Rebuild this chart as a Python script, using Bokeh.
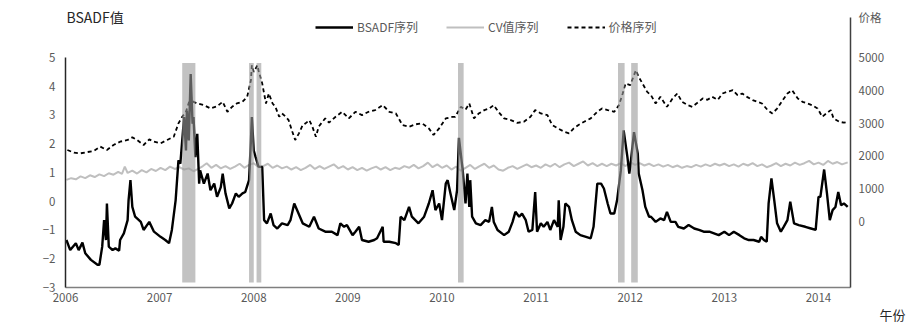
from bokeh.plotting import figure
from bokeh.models import Range1d, LinearAxis, FixedTicker, Legend, LegendItem, Label, Title
from bokeh.embed import file_html
from bokeh.resources import INLINE

# ---------------- data ----------------
years = [2006, 2007, 2008, 2009, 2010, 2011, 2012, 2013, 2014]
left_ticks = [-3, -2, -1, 0, 1, 2, 3, 4, 5]
right_ticks = [0, 1000, 2000, 3000, 4000, 5000]

bsadf_t = [2006.01, 2006.05, 2006.11, 2006.14, 2006.18, 2006.21, 2006.27, 2006.34, 2006.36, 2006.39,
           2006.41, 2006.43, 2006.44, 2006.46, 2006.50, 2006.53, 2006.57, 2006.58, 2006.62, 2006.66,
           2006.67, 2006.69, 2006.71, 2006.74, 2006.80, 2006.83, 2006.89, 2006.94, 2007.01, 2007.06,
           2007.10, 2007.13, 2007.17, 2007.20, 2007.22, 2007.26, 2007.28, 2007.29, 2007.31, 2007.33,
           2007.35, 2007.36, 2007.38, 2007.40, 2007.42, 2007.43, 2007.47, 2007.51, 2007.54, 2007.58,
           2007.61, 2007.65, 2007.67, 2007.70, 2007.74, 2007.77, 2007.81, 2007.84, 2007.88, 2007.91,
           2007.95, 2007.97, 2007.98, 2008.00, 2008.02, 2008.05, 2008.09, 2008.11, 2008.14, 2008.18,
           2008.21, 2008.25, 2008.30, 2008.36, 2008.39, 2008.43, 2008.46, 2008.52, 2008.59, 2008.64,
           2008.69, 2008.76, 2008.83, 2008.89, 2008.92, 2008.96, 2008.99, 2009.05, 2009.08, 2009.12,
           2009.15, 2009.22, 2009.28, 2009.31, 2009.37, 2009.38, 2009.44, 2009.51, 2009.54, 2009.56,
           2009.60, 2009.65, 2009.68, 2009.75, 2009.81, 2009.86, 2009.90, 2009.93, 2009.97, 2010.00,
           2010.04, 2010.06, 2010.09, 2010.13, 2010.16, 2010.18, 2010.22, 2010.25, 2010.27, 2010.29,
           2010.30, 2010.32, 2010.36, 2010.41, 2010.46, 2010.50, 2010.53, 2010.55, 2010.59, 2010.66,
           2010.71, 2010.75, 2010.78, 2010.82, 2010.85, 2010.89, 2010.92, 2010.96, 2010.99, 2011.01,
           2011.05, 2011.08, 2011.12, 2011.15, 2011.19, 2011.23, 2011.24, 2011.26, 2011.29, 2011.31,
           2011.35, 2011.38, 2011.42, 2011.47, 2011.53, 2011.58, 2011.61, 2011.65, 2011.69, 2011.72,
           2011.76, 2011.79, 2011.83, 2011.86, 2011.90, 2011.93, 2011.97, 2011.99, 2012.00, 2012.04,
           2012.08, 2012.09, 2012.13, 2012.16, 2012.20, 2012.22, 2012.27, 2012.32, 2012.36, 2012.39,
           2012.43, 2012.48, 2012.51, 2012.57, 2012.62, 2012.68, 2012.73, 2012.78, 2012.84, 2012.89,
           2012.94, 2013.00, 2013.05, 2013.10, 2013.16, 2013.21, 2013.26, 2013.31, 2013.37, 2013.39,
           2013.42, 2013.45, 2013.47, 2013.50, 2013.53, 2013.56, 2013.60, 2013.63, 2013.67, 2013.70,
           2013.74, 2013.79, 2013.86, 2013.92, 2013.97, 2014.00, 2014.02, 2014.06, 2014.09, 2014.12,
           2014.15, 2014.18, 2014.21, 2014.24, 2014.27, 2014.31]
bsadf_v = [-1.35, -1.70, -1.46, -1.70, -1.44, -1.81, -2.04, -2.21, -2.21, -1.58,
           -0.66, -1.35, -0.08, -1.58, -1.70, -1.64, -1.72, -1.35, -1.12, -0.66,
           0.03, 0.73, -0.20, -0.54, -0.72, -1.00, -0.72, -1.06, -1.24, -1.35,
           -1.46, -1.00, 0.03, 1.42, 1.30, 2.92, 1.76, 3.15, 2.11, 4.42,
           2.69, 2.92, 1.53, 2.34, 0.61, 1.07, 0.61, 0.96, 0.38, 0.61,
           0.15, 0.49, 0.96, 0.27, -0.25, -0.08, 0.27, 0.15, 0.27, 0.32,
           0.73, 2.11, 2.92, 1.76, 1.53, 1.20, 1.19, -0.66, -0.77, -0.43,
           -0.83, -0.95, -0.77, -0.83, -0.66, -0.08, -0.31, -0.77, -0.89, -0.54,
           -0.95, -1.06, -1.06, -1.18, -0.77, -0.89, -0.83, -1.18, -1.06, -0.89,
           -1.35, -1.41, -1.35, -1.29, -0.89, -1.41, -1.41, -1.46, -1.52, -0.54,
           -0.66, -0.20, -0.54, -0.77, -0.54, -0.08, 0.38, -0.31, -0.08, -0.66,
           0.61, 0.73, 0.27, -0.31, 0.38, 2.20, 1.07, -0.08, 0.96, -0.20,
           0.73, -0.54, -0.77, -0.83, -0.66, -0.72, -0.20, -0.72, -1.00, -1.18,
           -1.06, -0.72, -0.37, -0.54, -0.43, -0.66, -1.06, -1.00, 0.32, -1.06,
           -0.77, -0.89, -0.72, -1.00, -0.66, -0.89, 0.03, -1.35, -0.89, -0.08,
           -0.20, -0.66, -1.06, -1.18, -1.24, -1.29, -0.89, 0.61, 0.61, 0.44,
           -0.08, -0.43, -0.43, 0.03, 1.07, 2.46, 1.53, 0.96, 1.19, 2.40,
           1.65, 0.96, 0.38, -0.20, -0.54, -0.54, -0.72, -0.60, -0.66, -0.37,
           -0.72, -0.72, -0.89, -0.95, -0.83, -0.95, -1.00, -1.06, -1.06, -1.12,
           -1.18, -1.06, -1.18, -1.06, -1.18, -1.29, -1.35, -1.35, -1.41, -1.24,
           -1.35, -1.41, -0.08, 0.79, 0.03, -0.77, -1.06, -0.89, -0.66, -0.02,
           -0.77, -0.83, -0.89, -0.95, -1.00, 0.15, 0.15, 1.10, 0.27, -0.66,
           -0.31, -0.20, 0.32, -0.14, -0.08, -0.20]

cv_t = [2006.01, 2006.06, 2006.11, 2006.16, 2006.21, 2006.26, 2006.31, 2006.36, 2006.41, 2006.46,
        2006.51, 2006.56, 2006.60, 2006.63, 2006.66, 2006.71, 2006.76, 2006.81, 2006.86, 2006.91,
        2006.96, 2007.01, 2007.06, 2007.11, 2007.16, 2007.21, 2007.26, 2007.31, 2007.36, 2007.41,
        2007.46, 2007.50, 2007.55, 2007.60, 2007.65, 2007.70, 2007.75, 2007.80, 2007.85, 2007.90,
        2007.95, 2008.00, 2008.05, 2008.10, 2008.15, 2008.20, 2008.25, 2008.30, 2008.35, 2008.40,
        2008.45, 2008.50, 2008.55, 2008.60, 2008.65, 2008.70, 2008.75, 2008.80, 2008.85, 2008.90,
        2008.95, 2009.00, 2009.05, 2009.10, 2009.15, 2009.20, 2009.25, 2009.30, 2009.35, 2009.40,
        2009.45, 2009.50, 2009.55, 2009.60, 2009.65, 2009.70, 2009.75, 2009.80, 2009.85, 2009.90,
        2009.95, 2010.00, 2010.05, 2010.10, 2010.15, 2010.20, 2010.25, 2010.30, 2010.35, 2010.40,
        2010.45, 2010.50, 2010.55, 2010.60, 2010.65, 2010.70, 2010.75, 2010.80, 2010.85, 2010.90,
        2010.95, 2011.00, 2011.05, 2011.10, 2011.15, 2011.20, 2011.25, 2011.30, 2011.35, 2011.40,
        2011.45, 2011.50, 2011.55, 2011.60, 2011.65, 2011.70, 2011.75, 2011.80, 2011.85, 2011.90,
        2011.95, 2012.00, 2012.05, 2012.10, 2012.15, 2012.20, 2012.25, 2012.30, 2012.35, 2012.40,
        2012.45, 2012.50, 2012.55, 2012.60, 2012.65, 2012.70, 2012.75, 2012.80, 2012.85, 2012.90,
        2012.95, 2013.00, 2013.05, 2013.10, 2013.15, 2013.20, 2013.25, 2013.30, 2013.35, 2013.40,
        2013.45, 2013.50, 2013.55, 2013.60, 2013.65, 2013.70, 2013.75, 2013.80, 2013.85, 2013.90,
        2013.95, 2014.00, 2014.05, 2014.10, 2014.15, 2014.20, 2014.25, 2014.31]
cv_v = [0.74, 0.80, 0.76, 0.86, 0.80, 0.90, 0.84, 0.93, 0.87, 0.97,
        0.92, 1.02, 0.95, 1.20, 0.98, 1.06, 0.96, 1.08, 1.00, 1.12,
        1.05, 1.16, 1.08, 1.20, 1.12, 1.18, 1.10, 1.14, 1.04, 1.12,
        1.22, 1.32, 1.16, 1.26, 1.14, 1.22, 1.12, 1.20, 1.30, 1.16,
        1.26, 1.32, 1.18, 1.22, 1.30, 1.16, 1.24, 1.14, 1.20, 1.10,
        1.18, 1.08, 1.16, 1.26, 1.12, 1.22, 1.12, 1.20, 1.28, 1.14,
        1.22, 1.10, 1.18, 1.08, 1.16, 1.06, 1.14, 1.20, 1.10, 1.18,
        1.08, 1.16, 1.12, 1.22, 1.16, 1.26, 1.14, 1.22, 1.34, 1.18,
        1.28, 1.16, 1.24, 1.10, 1.20, 1.06, 1.16, 1.26, 1.12, 1.22,
        1.30, 1.16, 1.24, 1.10, 1.06, 1.16, 1.22, 1.12, 1.20, 1.28,
        1.18, 1.24, 1.16, 1.28, 1.20, 1.30, 1.18, 1.28, 1.34, 1.22,
        1.30, 1.38, 1.24, 1.32, 1.22, 1.30, 1.22, 1.30, 1.24, 1.32,
        1.22, 1.36, 1.26, 1.32, 1.24, 1.30, 1.22, 1.28, 1.20, 1.26,
        1.18, 1.24, 1.16, 1.22, 1.18, 1.26, 1.20, 1.28, 1.22, 1.30,
        1.24, 1.30, 1.22, 1.28, 1.20, 1.30, 1.24, 1.32, 1.22, 1.28,
        1.18, 1.24, 1.32, 1.22, 1.30, 1.24, 1.34, 1.26, 1.32, 1.40,
        1.28, 1.34, 1.26, 1.40, 1.30, 1.36, 1.28, 1.35]

price_t = [2006.02, 2006.09, 2006.16, 2006.23, 2006.30, 2006.37, 2006.44, 2006.51, 2006.58, 2006.66,
           2006.71, 2006.76, 2006.83, 2006.89, 2006.94, 2007.01, 2007.08, 2007.15, 2007.20, 2007.24,
           2007.28, 2007.33, 2007.36, 2007.40, 2007.47, 2007.54, 2007.61, 2007.67, 2007.72, 2007.77,
           2007.82, 2007.88, 2007.93, 2007.97, 2007.98, 2008.00, 2008.04, 2008.05, 2008.09, 2008.13,
           2008.16, 2008.20, 2008.23, 2008.27, 2008.30, 2008.34, 2008.37, 2008.41, 2008.44, 2008.48,
           2008.52, 2008.55, 2008.59, 2008.62, 2008.66, 2008.69, 2008.73, 2008.76, 2008.80, 2008.87,
           2008.94, 2009.01, 2009.08, 2009.15, 2009.22, 2009.29, 2009.37, 2009.44, 2009.51, 2009.58,
           2009.65, 2009.72, 2009.79, 2009.86, 2009.91, 2009.97, 2010.04, 2010.11, 2010.14, 2010.20,
           2010.25, 2010.29, 2010.34, 2010.39, 2010.45, 2010.50, 2010.55, 2010.60, 2010.66, 2010.73,
           2010.80, 2010.87, 2010.94, 2010.99, 2011.05, 2011.12, 2011.17, 2011.23, 2011.30, 2011.35,
           2011.40, 2011.45, 2011.51, 2011.58, 2011.65, 2011.70, 2011.76, 2011.83, 2011.88, 2011.92,
           2011.95, 2012.00, 2012.06, 2012.09, 2012.13, 2012.18, 2012.22, 2012.27, 2012.32, 2012.39,
           2012.45, 2012.50, 2012.55, 2012.61, 2012.66, 2012.71, 2012.77, 2012.82, 2012.87, 2012.93,
           2012.98, 2013.03, 2013.09, 2013.14, 2013.19, 2013.24, 2013.30, 2013.35, 2013.40, 2013.46,
           2013.51, 2013.56, 2013.62, 2013.67, 2013.72, 2013.78, 2013.83, 2013.88, 2013.93, 2013.99,
           2014.04, 2014.09, 2014.13, 2014.16, 2014.22, 2014.27, 2014.31]
price_v = [2165, 2083, 2063, 2100, 2134, 2266, 2165, 2317, 2418, 2470,
           2550, 2470, 2317, 2490, 2418, 2368, 2470, 2571, 2978, 3180,
           3333, 3790, 3638, 3587, 3537, 3435, 3500, 3638, 3333, 3485,
           3587, 3638, 3790, 4299, 4756, 4553, 4756, 4604, 4198, 3587,
           3893, 3587, 3485, 3180, 3282, 3180, 3079, 2723, 2470, 2673,
           2927, 2978, 3079, 2900, 2571, 2876, 3028, 3130, 3000, 3180,
           3333, 3130, 3333, 3231, 3333, 3384, 3537, 3333, 3282, 2927,
           2876, 2950, 2978, 2825, 2622, 2825, 3130, 3180, 3180, 3485,
           3400, 3587, 3130, 3282, 3384, 3430, 3537, 3330, 3130, 3079,
           2996, 3030, 3180, 3384, 3282, 3231, 2927, 2825, 2723, 2673,
           2825, 2930, 3028, 3130, 3333, 3435, 3384, 3333, 3537, 3893,
           4198, 4147, 4604, 4400, 4198, 3943, 3841, 3587, 3790, 3485,
           3740, 3893, 3638, 3537, 3485, 3600, 3740, 3700, 3790, 3700,
           3893, 3943, 3994, 3840, 3890, 3790, 3689, 3640, 3587, 3384,
           3282, 3430, 3689, 3893, 3994, 3740, 3638, 3590, 3537, 3435,
           3180, 3300, 3384, 3130, 3028, 3000, 3028]

band_start = [2007.24, 2007.95, 2008.03, 2010.17, 2011.87, 2012.01]
band_end = [2007.38, 2008.00, 2008.08, 2010.23, 2011.94, 2012.08]
band_top = 4.8
band_bottom = -2.83

price_title_pos = 6220     # where the "价格" heading sits on the price scale

FONT = "Noto Sans CJK SC"
TICK_COLOR = "#595959"
TITLE_COLOR = "#262626"

# ---------------- figure ----------------
# the frame reaches the top of the canvas so that the legend and headings can live inside it
p = figure(width=923, height=325, output_backend="svg", toolbar_location=None,
           x_range=Range1d(2006, 2014.34), y_range=Range1d(-3, 6.974),
           min_border_left=65, min_border_right=73, min_border_top=0, min_border_bottom=37,
           background_fill_color="white", border_fill_color="white")
p.extra_y_ranges = {"price": Range1d(-2043, 6738)}
p.grid.visible = False
p.outline_line_color = None


def style_axis(ax, standoff, color):
    ax.axis_line_color = color
    ax.axis_line_width = 1.5
    ax.major_tick_line_color = None
    ax.minor_tick_line_color = None
    ax.major_tick_out = 0
    ax.major_tick_in = 0
    ax.minor_tick_out = 0
    ax.minor_tick_in = 0
    ax.major_label_standoff = standoff
    ax.major_label_text_font = FONT
    ax.major_label_text_font_size = "11.5px"
    ax.major_label_text_color = TICK_COLOR


# x axis
xa = p.xaxis[0]
xa.ticker = FixedTicker(ticks=years)
style_axis(xa, 5, "#7f7f7f")

# left axis
ya = p.yaxis[0]
ya.ticker = FixedTicker(ticks=left_ticks)
ya.bounds = (-3, 5)
style_axis(ya, 10, "#262626")

# right axis (its top tick carries the "价格" heading)
ra = LinearAxis(y_range_name="price", ticker=FixedTicker(ticks=right_ticks + [price_title_pos]),
                bounds=(-2043, price_title_pos))
ra.major_label_overrides = {price_title_pos: "价格"}
style_axis(ra, 8, "#404040")
p.add_layout(ra, "right")

# series
r_cv = p.line(cv_t, cv_v, line_color="#bfbfbf", line_width=2)
r_price = p.line(price_t, price_v, y_range_name="price", line_color="black",
                 line_width=1.8, line_dash="4 3")
r_bsadf = p.line(bsadf_t, bsadf_v, line_color="black", line_width=2.4)

# highlighted bands (semi-transparent, drawn over the lines)
p.quad(left=band_start, right=band_end, bottom=band_bottom, top=band_top,
       fill_color="#9a9a9a", fill_alpha=0.6, line_color=None)

# legend inside the (tall) frame, at the top
legend = Legend(items=[LegendItem(label="BSADF序列", renderers=[r_bsadf]),
                       LegendItem(label="CV值序列", renderers=[r_cv]),
                       LegendItem(label="价格序列", renderers=[r_price])],
                orientation="horizontal", location=(250, 252),
                glyph_width=38, glyph_height=12, label_height=12, label_standoff=4,
                spacing=28, padding=0, margin=0, border_line_color=None,
                background_fill_alpha=0, label_text_font=FONT,
                label_text_font_size="12px", label_text_color=TICK_COLOR)
p.add_layout(legend, "center")

# left heading
p.add_layout(Label(x=1, y=271, x_units="screen", y_units="screen", text="BSADF值",
                   text_font=FONT, text_font_size="14px", text_color=TITLE_COLOR,
                   text_baseline="middle", text_align="left"))

# x heading, bottom right
p.add_layout(Title(text="午份", align="right", offset=-55, standoff=0, vertical_align="top",
                   text_font=FONT, text_font_size="13px", text_color=TITLE_COLOR,
                   text_font_style="normal"), "below")

open("out.html", "w").write(file_html(p, INLINE))
